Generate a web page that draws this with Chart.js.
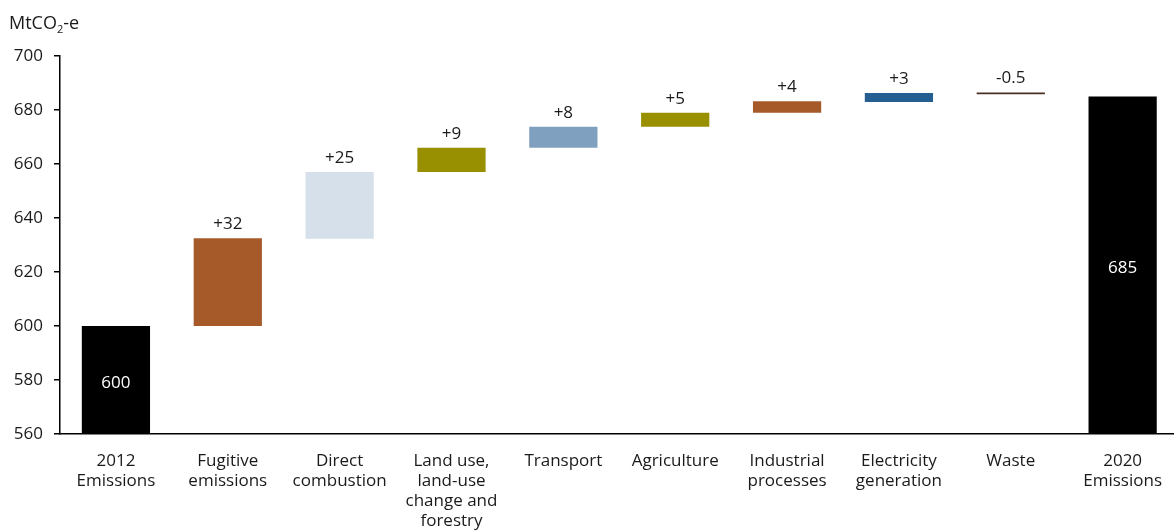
<!DOCTYPE html>
<html><head><meta charset="utf-8">
<script src="https://cdn.jsdelivr.net/npm/chart.js@4.4.1/dist/chart.umd.min.js"></script>
<style>
html,body{margin:0;padding:0;background:#fff;overflow:hidden;}
#wrap{position:relative;width:1179px;height:532px;}
</style></head>
<body><div id="wrap"><canvas id="c"></canvas></div>
<script>
const categories = [['2012','Emissions'],['Fugitive','emissions'],['Direct','combustion'],['Land use,','land-use','change and','forestry'],['Transport'],['Agriculture'],['Industrial','processes'],['Electricity','generation'],['Waste'],['2020','Emissions']];
const lows  = [0,   600,   632.3, 657, 666, 673.8, 679, 683, 685.8, 0];
const highs = [600, 632.5, 657,   666, 673.8, 679, 683.2, 686.3, 686.5, 685];
const valueLabels = ['600','+32','+25','+9','+8','+5','+4','+3','-0.5','685'];
const isTotal = [true,false,false,false,false,false,false,false,false,true];
const colors = ['#000000','#A65A2A','#D5E0EA','#989000','#7FA0BE','#989000','#A65A2A','#255E91','#4B3026','#000000'];
const yTicks = [560,580,600,620,640,660,680,700];

const FONT = '"Open Sans", "DejaVu Sans", sans-serif';
const TXT = '#1a1a1a';
const FS = 17;

const labelPlugin = {
  id:'labels',
  afterDatasetsDraw(chart){
    const ctx = chart.ctx, meta = chart.getDatasetMeta(0), y = chart.scales.y, area = chart.chartArea;
    ctx.save();
    ctx.font = FS + 'px ' + FONT;
    ctx.textAlign = 'center';
    meta.data.forEach((bar,i)=>{
      if(isTotal[i]){
        const top = y.getPixelForValue(highs[i]);
        const bot = area.bottom;
        ctx.fillStyle = '#ffffff';
        ctx.textBaseline = 'middle';
        ctx.fillText(valueLabels[i], bar.x, (top+bot)/2 + 3);
      } else {
        const top = y.getPixelForValue(Math.max(lows[i],highs[i]));
        ctx.fillStyle = TXT;
        ctx.textBaseline = 'alphabetic';
        ctx.fillText(valueLabels[i], bar.x, top - 9);
      }
    });
    // axis title with subscript
    ctx.textAlign = 'left';
    ctx.textBaseline = 'alphabetic';
    ctx.fillStyle = TXT;
    ctx.font = '18px ' + FONT;
    let x = 9;
    const base = 29;
    ctx.fillText('MtCO', x, base); x += ctx.measureText('MtCO').width;
    ctx.font = '11px ' + FONT;
    ctx.fillText('2', x, base + 4); x += ctx.measureText('2').width;
    ctx.font = '18px ' + FONT;
    ctx.fillText('-e', x, base);
    ctx.restore();
  }
};

new Chart(document.getElementById('c'), {
  type:'bar',
  data:{
    labels: categories,
    datasets:[{
      data: lows.map((l,i)=>[l,highs[i]]),
      backgroundColor: colors,
      borderWidth:0,
      categoryPercentage:1,
      barPercentage:0.61
    }]
  },
  options:{
    responsive:true,
    maintainAspectRatio:false,
    animation:false,
    layout:{padding:{top:56,right:0,left:0,bottom:0}},
    plugins:{legend:{display:false},tooltip:{enabled:false}},
    scales:{
      x:{
        afterFit(s){ s.height = 98; },
        grid:{display:false, drawTicks:false},
        border:{display:true,color:'#000',width:1.5},
        ticks:{color:TXT,font:{family:FONT,size:FS,lineHeight:20/FS},padding:17,maxRotation:0,autoSkip:false},
      },
      y:{
        min:560,max:700,
        afterBuildTicks(s){ s.ticks = yTicks.map(v=>({value:v})); },
        afterFit(s){ s.width = 60; },
        grid:{display:true,drawOnChartArea:false,drawTicks:true,tickLength:6,color:'#000',lineWidth:1.5},
        border:{display:true,color:'#000',width:1.5},
        ticks:{color:TXT,font:{family:FONT,size:FS},padding:11}
      }
    }
  },
  plugins:[labelPlugin]
});
</script></body></html>
